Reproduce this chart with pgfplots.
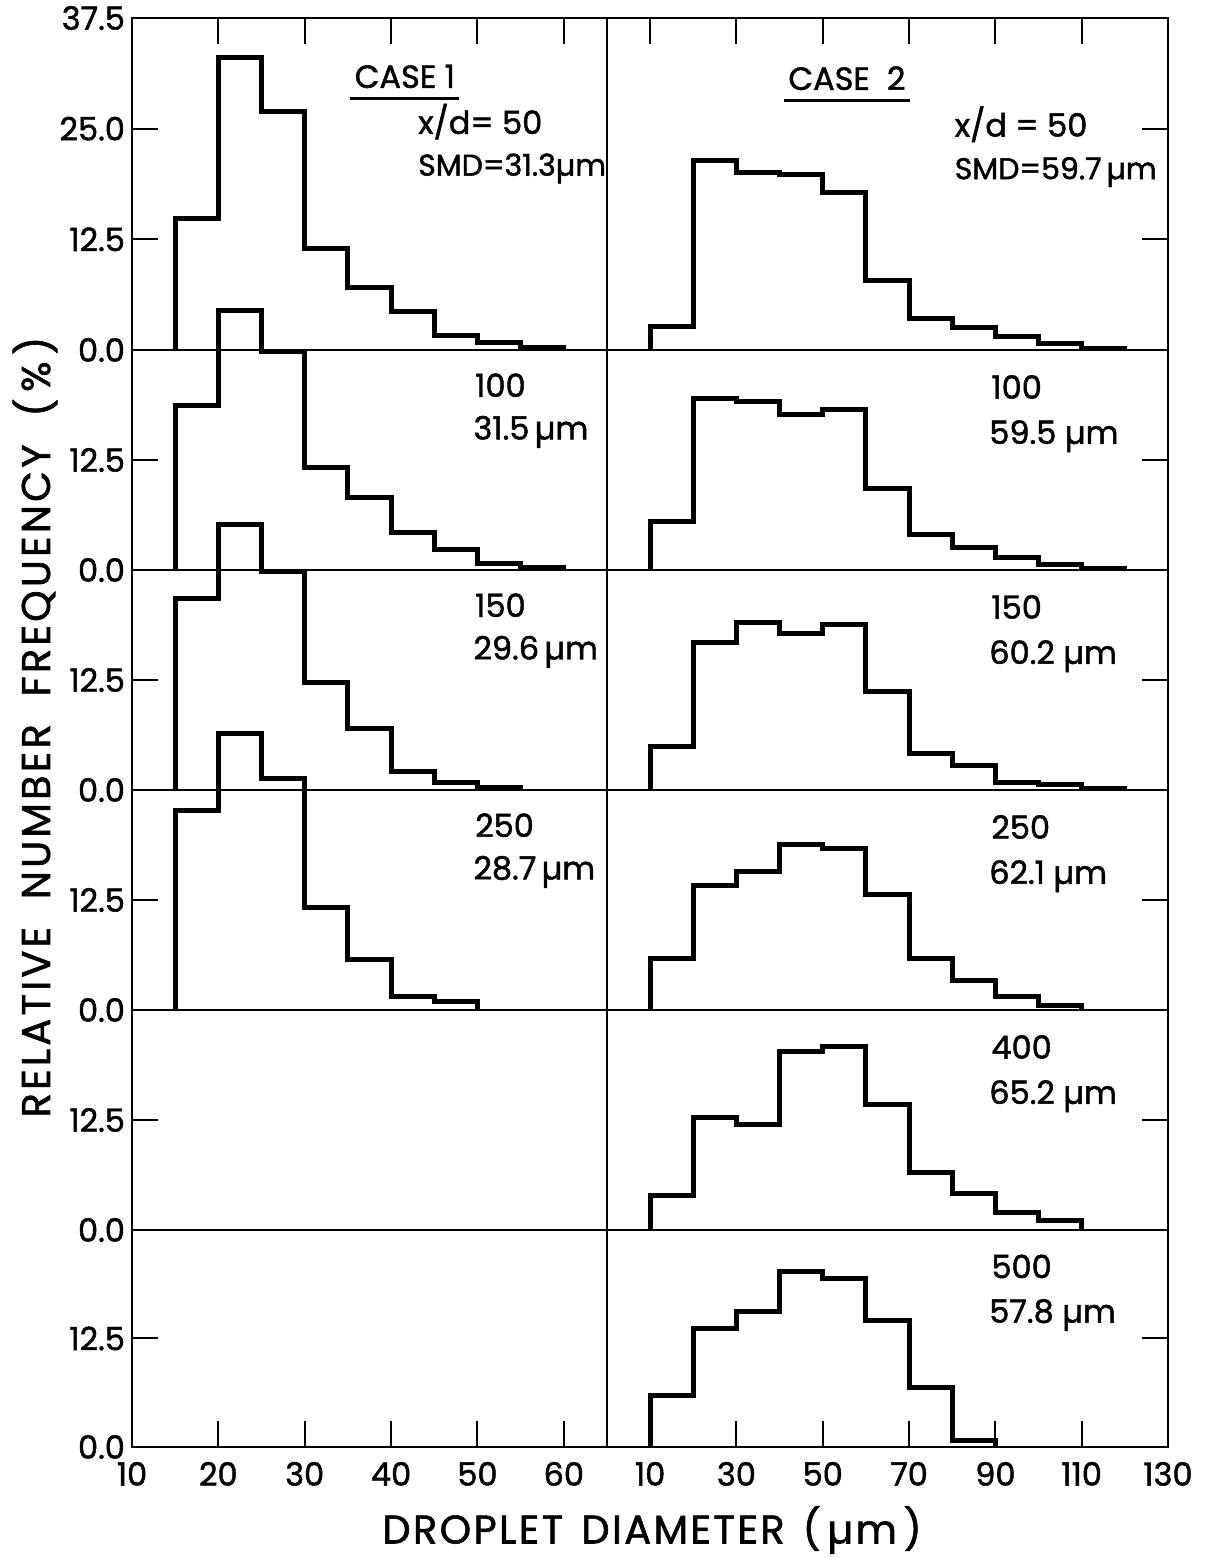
\documentclass[border=0pt]{standalone}
\usepackage{fontspec}
\setmainfont{Poppins}[FakeBold=1.5]
\usepackage{pgfplots}
\pgfplotsset{compat=1.18}
\newcommand{\lab}{\fontsize{16}{16}\selectfont}
\newcommand{\labs}{\fontsize{15}{15}\selectfont}
\tikzset{ann/.style={font=\lab, anchor=west, inner sep=0pt},
  steps/.style={const plot, black, line width=2.5pt, mark=none, line join=miter}}
\begin{document}
\begin{tikzpicture}
\pgfplotsset{
  panel/.style={scale only axis, clip=false, ymin=0, ymax=25, height=110pt,
    axis line style={line width=1pt}, tick align=inside, major tick length=13pt,
    every tick/.style={line width=1pt, black},
    ticklabel style={font=\lab},
    xticklabel style={yshift=-4pt},
    /pgf/number format/assume math mode=true,
    yticklabel style={/pgf/number format/fixed, /pgf/number format/fixed zerofill, /pgf/number format/precision=1},
    xtick=\empty,
  },
  L/.style={panel, width=237.5pt, xmin=10, xmax=65, ytick pos=left, ytick={0,12.5}},
  R/.style={panel, width=280.5pt, xmin=0, xmax=130, ytick pos=right, ytick={12.5}, yticklabels={}},
}
% ---------- Row 1 ----------
\begin{axis}[L, name=r1L, at={(0,0)}, anchor=north west, height=166pt, ymax=37.5,
  ytick={0,12.5,25,37.5}, xtick={20,30,40,50,60}, xtick pos=right, xticklabels={}]
\addplot[steps] coordinates {(15,0)(15,14.8)(20,33.0)(25,26.9)(30,11.5)(35,7.1)(40,4.3)(45,1.6)(50,0.9)(55,0.3)(60,0)};
\node[font=\lab, inner sep=0pt] (c1) at (axis cs:41.6,30.9) {CASE 1};
\draw[line width=1.2pt] ([xshift=-2pt,yshift=-5pt]c1.south west) -- ([xshift=2pt,yshift=-5pt]c1.south east);
\node[ann] at (axis cs:43.1,25.8) {x/d= 50};
\node[ann, font=\labs] at (axis cs:43.1,20.5) {SMD=31.3µm};
\end{axis}
\begin{axis}[R, name=r1R, at={(r1L.north east)}, anchor=north west, height=166pt, ymax=37.5,
  ytick={12.5,25}, xtick={10,30,50,70,90,110}, xtick pos=right, xticklabels={}]
\addplot[steps] coordinates {(10,0)(10,2.7)(20,21.4)(30,20.1)(40,19.8)(50,17.8)(60,7.9)(70,3.6)(80,2.5)(90,1.5)(100,0.7)(110,0.2)(120,0)};
\node[font=\lab, inner sep=0pt] (c2) at (axis cs:55.6,30.7) {CASE\ \ 2};
\draw[line width=1.2pt] ([xshift=-2pt,yshift=-5pt]c2.south west) -- ([xshift=2pt,yshift=-5pt]c2.south east);
\node[ann] at (axis cs:80.5,25.5) {x/d =\ 50};
\node[ann, font=\labs] at (axis cs:80.5,20.1) {SMD=59.7\,µm};
\end{axis}
% ---------- Row 2 ----------
\begin{axis}[L, name=r2L, at={(r1L.south west)}, anchor=north west]
\addplot[steps] coordinates {(15,0)(15,18.7)(20,29.5)(25,24.8)(30,11.7)(35,8.2)(40,4.3)(45,2.3)(50,0.7)(55,0.3)(60,0)};
\node[ann] at (axis cs:49.7,21.0) {100};
\node[ann] at (axis cs:49.5,15.7) {31.5\,µm};
\end{axis}
\begin{axis}[R, name=r2R, at={(r2L.north east)}, anchor=north west]
\addplot[steps] coordinates {(10,0)(10,5.5)(20,19.5)(30,19.2)(40,17.7)(50,18.2)(60,9.3)(70,4.0)(80,2.6)(90,1.4)(100,0.6)(110,0.2)(120,0)};
\node[ann] at (axis cs:89,20.8) {100};
\node[ann] at (axis cs:88.5,15.2) {59.5 µm};
\end{axis}
% ---------- Row 3 ----------
\begin{axis}[L, name=r3L, at={(r2L.south west)}, anchor=north west]
\addplot[steps] coordinates {(15,0)(15,21.8)(20,30.2)(25,24.8)(30,12.2)(35,7.0)(40,2.1)(45,0.9)(50,0.3)(55,0)};
\node[ann] at (axis cs:49.7,21.0) {150};
\node[ann] at (axis cs:49.5,15.7) {29.6\,µm};
\end{axis}
\begin{axis}[R, name=r3R, at={(r3L.north east)}, anchor=north west]
\addplot[steps] coordinates {(10,0)(10,5.0)(20,16.8)(30,19.0)(40,17.8)(50,18.8)(60,11.2)(70,4.1)(80,2.8)(90,0.8)(100,0.6)(110,0.2)(120,0)};
\node[ann] at (axis cs:89,20.8) {150};
\node[ann] at (axis cs:88.5,15.2) {60.2 µm};
\end{axis}
% ---------- Row 4 ----------
\begin{axis}[L, name=r4L, at={(r3L.south west)}, anchor=north west]
\addplot[steps] coordinates {(15,0)(15,22.7)(20,31.4)(25,26.3)(30,11.6)(35,5.7)(40,1.5)(45,1.0)(50,0)};
\node[ann] at (axis cs:49.7,21.0) {250};
\node[ann] at (axis cs:49.5,15.7) {28.7\,µm};
\end{axis}
\begin{axis}[R, name=r4R, at={(r4L.north east)}, anchor=north west]
\addplot[steps] coordinates {(10,0)(10,5.9)(20,14.2)(30,15.7)(40,18.8)(50,18.4)(60,13.1)(70,5.9)(80,3.4)(90,1.5)(100,0.5)(110,0)};
\node[ann] at (axis cs:89,20.8) {250};
\node[ann] at (axis cs:88.5,15.2) {62.1 µm};
\end{axis}
% ---------- Row 5 ----------
\begin{axis}[L, name=r5L, at={(r4L.south west)}, anchor=north west]
\end{axis}
\begin{axis}[R, name=r5R, at={(r5L.north east)}, anchor=north west]
\addplot[steps] coordinates {(10,0)(10,3.9)(20,12.8)(30,12.0)(40,20.3)(50,20.8)(60,14.3)(70,6.5)(80,4.2)(90,2.0)(100,1.1)(110,0)};
\node[ann] at (axis cs:89,20.8) {400};
\node[ann] at (axis cs:88.5,15.2) {65.2 µm};
\end{axis}
% ---------- Row 6 ----------
\begin{axis}[L, name=r6L, at={(r5L.south west)}, anchor=north west, height=108.5pt,
  xtick={10,20,30,40,50,60}, xtick pos=left]
\end{axis}
\begin{axis}[R, name=r6R, at={(r6L.north east)}, anchor=north west, height=108.5pt,
  xtick={10,30,50,70,90,110,130}, xtick pos=left]
\addplot[steps] coordinates {(10,0)(10,5.9)(20,13.7)(30,15.6)(40,20.2)(50,19.4)(60,14.6)(70,6.8)(80,0.8)(90,0)};
\node[ann] at (axis cs:89,20.8) {500};
\node[ann] at (axis cs:88.5,15.2) {57.8 µm};
\end{axis}
% ---------- axis titles ----------
\node[font={\fontsize{20}{20}\selectfont\addfontfeatures{LetterSpace=6}}] at (260pt,-756pt) {DROPLET\hspace{0.45em}DIAMETER\hspace{0.45em}(\,µm\,)};
\node[font={\fontsize{20}{20}\selectfont\addfontfeatures{LetterSpace=8}}, rotate=90] at (-48.5pt,-354.5pt) {RELATIVE\ \ NUMBER\ \ FREQUENCY\ \ (\,\%\,)};
\pgfresetboundingbox
\path[use as bounding box] (-66pt,9pt) rectangle (539.5pt,-770pt);
\end{tikzpicture}
\end{document}
